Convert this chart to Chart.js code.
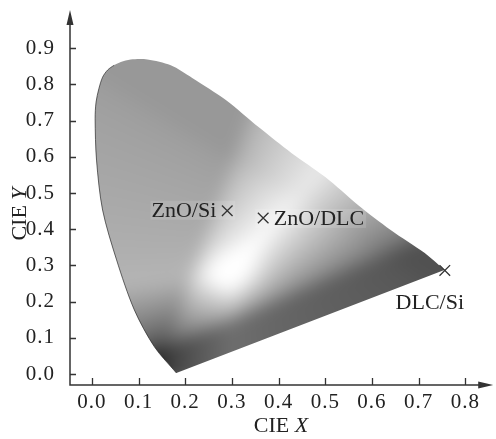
<!DOCTYPE html>
<html>
<head>
<meta charset="utf-8">
<script src="https://cdn.jsdelivr.net/npm/chart.js@4"></script>
<style>
  html, body { margin: 0; padding: 0; background: #fff; }
  #box { width: 496px; height: 439px; position: relative; }
</style>
</head>
<body>
<div id="box"><canvas id="cie"></canvas></div>
<script>
// spectral locus: bottom -> left edge -> top -> red tip
const locusX = [0.181, 0.134, 0.091, 0.053, 0.023, 0.010, 0.007, 0.009, 0.015, 0.023, 0.034, 0.048,
                0.062, 0.083, 0.119, 0.169, 0.215, 0.287, 0.357, 0.428, 0.500, 0.570, 0.640, 0.713, 0.755];
const locusY = [0.003, 0.075, 0.177, 0.315, 0.453, 0.591, 0.705, 0.751, 0.788, 0.820, 0.840, 0.853,
                0.862, 0.869, 0.869, 0.853, 0.818, 0.757, 0.682, 0.610, 0.544, 0.467, 0.398, 0.334, 0.287];

// measured samples
const sampleNames = ['ZnO/Si', 'ZnO/DLC', 'DLC/Si'];
const sampleX = [0.290, 0.367, 0.756];
const sampleY = [0.451, 0.431, 0.286];

// tick labels
const xTicks = [0.0, 0.1, 0.2, 0.3, 0.4, 0.5, 0.6, 0.7, 0.8];
const yTicks = [0.0, 0.1, 0.2, 0.3, 0.4, 0.5, 0.6, 0.7, 0.8, 0.9];

const FONT = '"Liberation Serif", "Times New Roman", serif';
const INK = '#222';

// xy -> linear sRGB (Y = 1)
function linRGB(x, y) {
  const X = x / y, Z = (1 - x - y) / y;
  return [
    3.2406 * X - 1.5372 - 0.4986 * Z,
    -0.9689 * X + 1.8758 + 0.0415 * Z,
    0.0557 * X - 0.2040 + 1.0570 * Z
  ];
}
const WX = 0.30, WY = 0.28;
const white = linRGB(WX, WY);
// grey value of the (max-normalised) colour at xy
function grayAt(x, y) {
  if (y < 0.002) y = 0.002;
  const c = linRGB(x, y).map((v, i) => Math.max(v / white[i], 0));
  const m = Math.max(c[0], c[1], c[2]);
  if (m <= 0) return 0;
  const p = 0.45;
  const l = 0.31 * Math.pow(c[0] / m, p) + 0.58 * Math.pow(c[1] / m, p) + 0.11 * Math.pow(c[2] / m, p);
  const d2 = (x - WX) * (x - WX) + (y - WY) * (y - WY);
  return 255 * Math.min(1, 1.03 * l + 0.12 * Math.exp(-d2 / 0.0032));
}

function locusPath(ctx, pts) {
  ctx.beginPath();
  ctx.moveTo(pts[0].x, pts[0].y);
  for (let i = 1; i < pts.length; i++) {
    const p = pts[i - 1], q = pts[i];
    ctx.bezierCurveTo(p.cp2x, p.cp2y, q.cp1x, q.cp1y, q.x, q.y);
  }
  ctx.closePath();
}

// where each label sits next to its cross
const labelPos = [
  { dx: -11, dy: -1, align: 'right', box: true },
  { dx: 10.5, dy: 0, align: 'left', box: true },
  { dx: -15, dy: 32, align: 'center', box: false }
];

const shade = {
  id: 'shade',
  beforeDraw(chart) {
    chart.ctx.letterSpacing = '1px';
  },
  beforeDatasetsDraw(chart) {
    const { ctx, chartArea: a, scales: { x, y } } = chart;
    ctx.letterSpacing = '0px';
    const meta = chart.getDatasetMeta(0);
    meta.dataset.updateControlPoints(a, 'x');
    const w = Math.ceil(a.right - a.left), h = Math.ceil(a.bottom - a.top);
    const off = document.createElement('canvas');
    off.width = w; off.height = h;
    const octx = off.getContext('2d');
    const img = octx.createImageData(w, h);
    for (let j = 0; j < h; j++) {
      const vy = y.getValueForPixel(a.top + j + 0.5);
      for (let i = 0; i < w; i++) {
        const vx = x.getValueForPixel(a.left + i + 0.5);
        const g = grayAt(vx, vy);
        const k = 4 * (j * w + i);
        img.data[k] = img.data[k + 1] = img.data[k + 2] = g;
        img.data[k + 3] = 255;
      }
    }
    octx.putImageData(img, 0, 0);
    const soft = document.createElement('canvas');
    soft.width = w; soft.height = h;
    const sctx = soft.getContext('2d');
    sctx.filter = 'blur(8px)';
    sctx.drawImage(off, 0, 0);
    ctx.save();
    locusPath(ctx, meta.data);
    ctx.clip();
    ctx.drawImage(soft, a.left, a.top);
    ctx.restore();

    // light boxes behind the labels
    const pts = chart.getDatasetMeta(1).data;
    ctx.save();
    ctx.font = '22px ' + FONT;
    ctx.fillStyle = 'rgba(255,255,255,0.12)';
    pts.forEach((p, i) => {
      const L = labelPos[i];
      if (!L.box) return;
      const tw = ctx.measureText(sampleNames[i]).width;
      const tx = p.x + L.dx;
      const x0 = L.align === 'right' ? Math.min(tx - tw, p.x - 6) : Math.min(tx, p.x - 7);
      const x1 = L.align === 'right' ? p.x + 7 : tx + tw + 1;
      ctx.fillRect(x0 - 1, p.y + L.dy - 9, x1 - x0 + 2, 19);
    });
    ctx.restore();
  },
  afterDatasetsDraw(chart) {
    const { ctx } = chart;
    const pts = chart.getDatasetMeta(1).data;
    ctx.save();
    ctx.font = '22px ' + FONT;
    ctx.fillStyle = INK;
    ctx.textBaseline = 'middle';
    pts.forEach((p, i) => {
      const L = labelPos[i];
      ctx.textAlign = L.align;
      ctx.fillText(sampleNames[i], p.x + L.dx, p.y + L.dy + 1);
    });
    ctx.restore();
  },
  afterDraw(chart) {
    const { ctx, chartArea: a, scales: { x, y } } = chart;
    ctx.save();
    ctx.strokeStyle = '#333';
    ctx.fillStyle = '#333';
    ctx.lineWidth = 1.5;
    // axis lines
    ctx.beginPath();
    ctx.moveTo(a.left, a.top + 2);
    ctx.lineTo(a.left, a.bottom);
    ctx.lineTo(a.right, a.bottom);
    ctx.stroke();
    // inward ticks
    ctx.lineWidth = 1.3;
    ctx.beginPath();
    xTicks.forEach(v => {
      const px = Math.round(x.getPixelForValue(v)) + 0.5;
      ctx.moveTo(px, a.bottom);
      ctx.lineTo(px, a.bottom - 7);
    });
    yTicks.forEach(v => {
      const py = Math.round(y.getPixelForValue(v)) + 0.5;
      ctx.moveTo(a.left, py);
      ctx.lineTo(a.left + 6, py);
    });
    ctx.stroke();
    // arrow heads
    ctx.beginPath();
    ctx.moveTo(a.left, a.top - 2);
    ctx.lineTo(a.left - 3.5, a.top + 13);
    ctx.lineTo(a.left + 3.5, a.top + 13);
    ctx.closePath();
    ctx.moveTo(a.right + 6, a.bottom);
    ctx.lineTo(a.right - 9, a.bottom - 3.5);
    ctx.lineTo(a.right - 9, a.bottom + 3.5);
    ctx.closePath();
    ctx.fill();
    // axis titles: "CIE" upright, the letter italic
    ctx.fillStyle = INK;
    ctx.textBaseline = 'alphabetic';
    ctx.textAlign = 'left';
    const drawTitle = (cx, cy, letter) => {
      ctx.font = '22px ' + FONT;
      const w1 = ctx.measureText('CIE ').width;
      ctx.font = 'italic 22px ' + FONT;
      const w2 = ctx.measureText(letter).width;
      const sx = cx - (w1 + w2) / 2;
      ctx.font = '22px ' + FONT;
      ctx.fillText('CIE ', sx, cy);
      ctx.font = 'italic 22px ' + FONT;
      ctx.fillText(letter, sx + w1, cy);
    };
    drawTitle(281, 432, 'X');
    ctx.translate(26, 214);
    ctx.rotate(-Math.PI / 2);
    drawTitle(0, 0, 'Y');
    ctx.restore();
  }
};

new Chart(document.getElementById('cie'), {
  data: {
    datasets: [{
      type: 'line',
      data: locusX.map((v, i) => ({ x: v, y: locusY[i] })),
      tension: 0.3,
      pointRadius: 0,
      borderWidth: 1,
      fill: false,
      segment: {
        borderColor: c => c.p0DataIndex < 11 ? 'rgba(30,30,30,0.65)' : 'rgba(0,0,0,0)'
      }
    }, {
      type: 'scatter',
      data: sampleX.map((v, i) => ({ x: v, y: sampleY[i] })),
      pointStyle: 'crossRot',
      pointRadius: 7.5,
      borderColor: '#333',
      borderWidth: 1.3
    }]
  },
  options: {
    responsive: true,
    maintainAspectRatio: false,
    animation: false,
    events: [],
    layout: { padding: { top: 12, right: 6, left: 0, bottom: 0 } },
    plugins: { legend: { display: false }, tooltip: { enabled: false } },
    scales: {
      x: {
        type: 'linear',
        min: -0.0468,
        max: 0.8468,
        grid: { display: false },
        border: { display: false },
        afterBuildTicks: s => { s.ticks = xTicks.map(v => ({ value: v })); },
        afterFit: s => { s.height = 54; s.paddingLeft = 0; s.paddingRight = 0; },
        ticks: {
          padding: -3,
          color: INK,
          font: { family: FONT, size: 21 },
          maxRotation: 0,
          callback: v => v.toFixed(1)
        }
      },
      y: {
        type: 'linear',
        min: -0.0304,
        max: 1.0,
        grid: { display: false },
        border: { display: false },
        afterBuildTicks: s => { s.ticks = yTicks.map(v => ({ value: v })); },
        afterFit: s => { s.width = 70; s.paddingTop = 0; s.paddingBottom = 0; },
        ticks: {
          padding: 7,
          color: INK,
          font: { family: FONT, size: 21 },
          callback: v => v.toFixed(1)
        }
      }
    }
  },
  plugins: [shade]
});
</script>
</body>
</html>
